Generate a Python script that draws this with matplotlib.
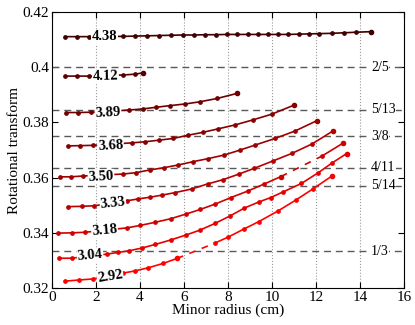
import numpy as np
import matplotlib
matplotlib.use("Agg")
import matplotlib.pyplot as plt

plt.rcParams['font.family'] = ['Liberation Serif', 'DejaVu Serif']

# rotational transform profiles, one per coil current setting
x_438 = [0.59, 1.14, 1.68, 3.24, 3.77, 4.30, 4.88, 5.39, 5.94, 6.47, 6.95, 7.44, 7.94,
         8.42, 8.90, 9.35, 9.80, 10.26, 10.74, 11.21, 11.70, 12.15, 12.71, 13.27, 13.82, 14.5]
y_438 = [0.4111, 0.4111, 0.4111, 0.4112, 0.4113, 0.4114, 0.4115, 0.4116, 0.4117, 0.4117,
         0.4118, 0.4118, 0.4119, 0.4119, 0.4119, 0.4119, 0.4119, 0.4119, 0.4119, 0.4120,
         0.4121, 0.4122, 0.4123, 0.4125, 0.4127, 0.4129]

x_412 = [0.59, 1.15, 1.70, 3.24, 3.77, 4.15]
y_412 = [0.3968, 0.3968, 0.3968, 0.3972, 0.3975, 0.3980]

x_389 = [0.64, 1.20, 1.76, 3.51, 4.12, 4.73, 5.36, 6.05, 6.73, 7.51, 8.40]
y_389 = [0.3836, 0.3836, 0.3837, 0.3845, 0.3849, 0.3855, 0.3861, 0.3867, 0.3875, 0.3887, 0.3905]

x_368 = [0.71, 1.27, 1.85, 3.62, 4.23, 4.88, 5.51, 6.20, 6.85, 7.56, 8.32, 9.12, 9.99, 11.01]
y_368 = [0.3715, 0.3716, 0.3717, 0.3726, 0.3730, 0.3736, 0.3742, 0.3754, 0.3764, 0.3777,
         0.3791, 0.3809, 0.3830, 0.3863]

x_350 = [0.36, 0.85, 1.42, 3.21, 3.82, 4.45, 5.09, 5.74, 6.42, 7.10, 7.83, 8.55, 9.23,
         10.14, 11.05, 12.03]
y_350 = [0.3603, 0.3603, 0.3606, 0.3613, 0.3618, 0.3628, 0.3636, 0.3646, 0.3658, 0.3669,
         0.3682, 0.3700, 0.3718, 0.3742, 0.3769, 0.3806]

x_333 = [0.74, 1.35, 1.91, 3.39, 3.93, 4.45, 5.02, 5.61, 6.35, 7.07, 7.79, 8.50, 9.20,
         10.06, 10.91, 11.82, 12.77]
y_333 = [0.3495, 0.3496, 0.3498, 0.3516, 0.3523, 0.3529, 0.3537, 0.3546, 0.3559, 0.3577,
         0.3593, 0.3613, 0.3634, 0.3661, 0.3688, 0.3722, 0.3769]

x_318a = [0.29, 0.90, 1.50, 3.41, 4.02, 4.68, 5.39, 6.09, 6.75, 7.41, 8.14, 8.89, 9.65, 10.41]
y_318a = [0.3399, 0.3400, 0.3402, 0.3418, 0.3427, 0.3438, 0.3451, 0.3468, 0.3485, 0.3504,
          0.3528, 0.3551, 0.3577, 0.3604]
x_318b = [12.27, 13.23]
y_318b = [0.3678, 0.3725]

x_304 = [0.32, 0.89, 2.50, 3.00, 3.50, 4.09, 4.70, 5.39, 6.09, 6.73, 7.41, 8.09, 8.75,
         9.41, 9.95, 10.50, 11.34, 12.11, 12.73, 13.39]
y_304 = [0.3308, 0.3308, 0.3323, 0.3329, 0.3335, 0.3345, 0.3358, 0.3374, 0.3392, 0.3410,
         0.3434, 0.3461, 0.3490, 0.3512, 0.3528, 0.3548, 0.3579, 0.3618, 0.3653, 0.3687]

x_292a = [0.59, 1.23, 1.86, 3.23, 3.77, 4.36, 5.05, 5.68]
y_292a = [0.3225, 0.3229, 0.3233, 0.3254, 0.3262, 0.3273, 0.3289, 0.3307]
x_292b = [7.41, 8.02, 8.73, 9.41, 10.27, 11.09, 11.86, 12.73]
y_292b = [0.3363, 0.3385, 0.3414, 0.3441, 0.3479, 0.3519, 0.3559, 0.3606]

curve_names = ["4.38", "4.12", "3.89", "3.68", "3.50", "3.33", "3.18", "3.04", "2.92"]

# rational surfaces
frac_vals = [2/5, 5/13, 3/8, 4/11, 5/14, 1/3]
frac_names = ["2/5", "5/13", "3/8", "4/11", "5/14", "1/3"]

yticks = [0.32, 0.34, 0.36, 0.38, 0.40, 0.42]
ytick_labels = ["0.32", "0.34", "0.36", "0.38", "0.4", "0.42"]

fig = plt.figure(figsize=(4.15, 3.25), dpi=100)
ax = fig.add_axes([0.1253, 0.1138, 0.848, 0.849])

colors = [(0.25 + 0.75 * t, 0, 0) for t in np.linspace(0, 1, 9)]

# solid pieces (with a dashed bridge where the profile is missing)
segs = [
    [(x_438, y_438)],
    [(x_412, y_412)],
    [(x_389, y_389)],
    [(x_368, y_368)],
    [(x_350, y_350)],
    [(x_333, y_333)],
    [(x_318a, y_318a), (x_318b, y_318b)],
    [(x_304, y_304)],
    [(x_292a, y_292a), (x_292b, y_292b)],
]

for c, pieces in zip(colors, segs):
    for xs, ys in pieces:
        ax.plot(xs, ys, '-', color=c, lw=1.2, marker='o', ms=2.4, zorder=3)
        ax.plot(xs[-1], ys[-1], 'o', color=c, ms=3.0, zorder=3)
    for (xa, ya), (xb, yb) in zip(pieces[:-1], pieces[1:]):
        ax.plot([xa[-1], xb[0]], [ya[-1], yb[0]], color=c, lw=1.2,
                ls=(0, (4, 4)), zorder=3)

# inline curve labels
lab_x = [2.40, 2.43, 2.55, 2.66, 2.23, 2.77, 2.39, 1.73, 2.64]
lab_y = [0.4110, 0.3966, 0.3836, 0.3716, 0.3604, 0.3507, 0.3408, 0.3318, 0.3242]
lab_rot = [0, 1, 3, 3, 3, 6, 5, 5, 9]
for name, lx, ly, r in zip(curve_names, lab_x, lab_y, lab_rot):
    ax.text(lx, ly, name, fontsize=10.5, fontweight='bold', ha='center', va='center',
            rotation=r, rotation_mode='anchor', zorder=5,
            bbox=dict(facecolor='white', edgecolor='none', pad=0.4))

for v, name in zip(frac_vals, frac_names):
    ax.axhline(v, color='0.35', lw=1.0, ls=(0, (5, 3.5)), zorder=1)
    ax.text(14.5, v, name, fontsize=10, ha='left', va='center', zorder=4,
            bbox=dict(facecolor='white', edgecolor='none', pad=0.5))

ax.set_xlim(0, 16)
ax.set_ylim(0.32, 0.42)
ax.set_xticks(np.arange(0, 17, 2))
ax.set_yticks(yticks)
ax.set_yticklabels(ytick_labels)
ax.xaxis.grid(True, ls=':', color='0.6', lw=0.8)
ax.set_axisbelow(True)
ax.tick_params(direction='in', top=True, right=True, length=4, width=0.8,
               labelsize=11, pad=2)
for s in ax.spines.values():
    s.set_linewidth(0.8)

ax.set_xlabel("Minor radius (cm)", fontsize=11, labelpad=0)
ax.set_ylabel("Rotational transform", fontsize=11, labelpad=1)

fig.savefig("out.png", dpi=100)
